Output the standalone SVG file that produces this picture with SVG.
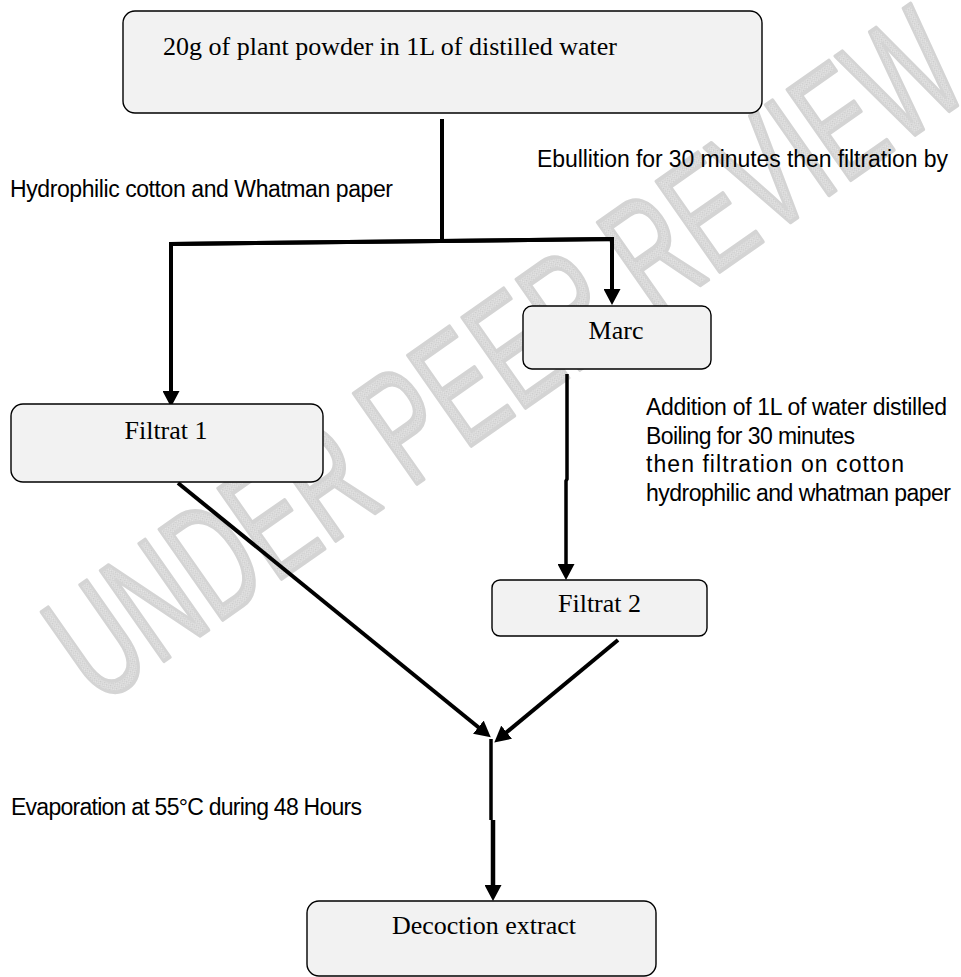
<svg xmlns="http://www.w3.org/2000/svg" width="961" height="977" viewBox="0 0 961 977">
<style>
.box{fill:#f2f2f2;stroke:#000;stroke-width:1.4}
.serif{font-family:"Liberation Serif","Times New Roman",serif;font-size:26px;fill:#000}
.sans{font-family:"Liberation Sans",Arial,sans-serif;font-size:23px;fill:#000}
.wire{fill:none;stroke:#000;stroke-width:4}
.wm{font-family:"Liberation Sans",Arial,sans-serif;font-size:160px;fill:url(#hatch);stroke:#d4d4d4;stroke-width:4;stroke-linejoin:round}
</style>
<defs>
<pattern id="hatch" width="3" height="3" patternUnits="userSpaceOnUse">
<rect width="3" height="3" fill="#e6e6e6"/>
<rect width="1.5" height="1.5" fill="#c9c9c9"/>
<rect x="1.5" y="1.5" width="1.5" height="1.5" fill="#d2d2d2"/>
</pattern>
<marker id="ah" viewBox="0 0 16 17" refX="6" refY="8.5" markerWidth="16" markerHeight="17" markerUnits="userSpaceOnUse" orient="auto">
<path d="M0,0 L16,8.5 L0,17 z" fill="#000"/>
</marker>
</defs>
<rect width="961" height="977" fill="#fff"/>
<g id="watermark">
<text class="wm" x="98" y="707" transform="rotate(-35 98 707)" textLength="1070" lengthAdjust="spacingAndGlyphs">UNDER PEER REVIEW</text>
</g>
<g id="connectors">
<path class="wire" d="M442,119 L442,241"/>
<path class="wire" d="M612,239 L171,244 L171,397" marker-end="url(#ah)"/>
<path class="wire" d="M171,244 L612,239 L612,295" marker-end="url(#ah)"/>
<path class="wire" style="stroke-width:3.5" d="M567,374 L567,479 L566,481 L566,570" marker-end="url(#ah)"/>
<path class="wire" d="M178,483 L483,731" marker-end="url(#ah)"/>
<path class="wire" d="M618,640 L502,736" marker-end="url(#ah)"/>
<path class="wire" style="stroke-width:3.5" d="M491,739 L491,820"/>
<path class="wire" style="stroke-width:4.5" d="M493,820 L493,891" marker-end="url(#ah)"/>
</g>
<g id="n-top">
<rect class="box" x="123" y="11" width="639" height="102" rx="12"/>
<text class="serif" x="163" y="55">20g of plant powder in 1L of distilled water</text>
</g>
<g id="n-marc">
<rect class="box" x="523" y="306" width="188" height="63" rx="9"/>
<text class="serif" x="616" y="339" text-anchor="middle">Marc</text>
</g>
<g id="n-filtrat1">
<rect class="box" x="11" y="404" width="312" height="78" rx="12"/>
<text class="serif" x="166" y="439" text-anchor="middle">Filtrat 1</text>
</g>
<g id="n-filtrat2">
<rect class="box" x="492" y="580" width="215" height="56" rx="8"/>
<text class="serif" x="599.5" y="612" text-anchor="middle">Filtrat 2</text>
</g>
<g id="n-decoction">
<rect class="box" x="307" y="901" width="349" height="75" rx="12"/>
<text class="serif" x="484" y="934" text-anchor="middle">Decoction extract</text>
</g>
<g id="labels">
<text class="sans" x="537" y="167" textLength="411" lengthAdjust="spacing">Ebullition for 30 minutes then filtration by</text>
<text class="sans" x="10" y="197" textLength="383" lengthAdjust="spacing">Hydrophilic cotton and Whatman paper</text>
<text class="sans" x="646" y="415" textLength="301" lengthAdjust="spacing">Addition of 1L of water distilled</text>
<text class="sans" x="646" y="443.5" textLength="209" lengthAdjust="spacing">Boiling for 30 minutes</text>
<text class="sans" x="646" y="472" textLength="258" lengthAdjust="spacing">then filtration on cotton</text>
<text class="sans" x="646" y="500.5" textLength="305" lengthAdjust="spacing">hydrophilic and whatman paper</text>
<text class="sans" x="11" y="815" textLength="351" lengthAdjust="spacing">Evaporation at 55°C during 48 Hours</text>
</g>
</svg>
